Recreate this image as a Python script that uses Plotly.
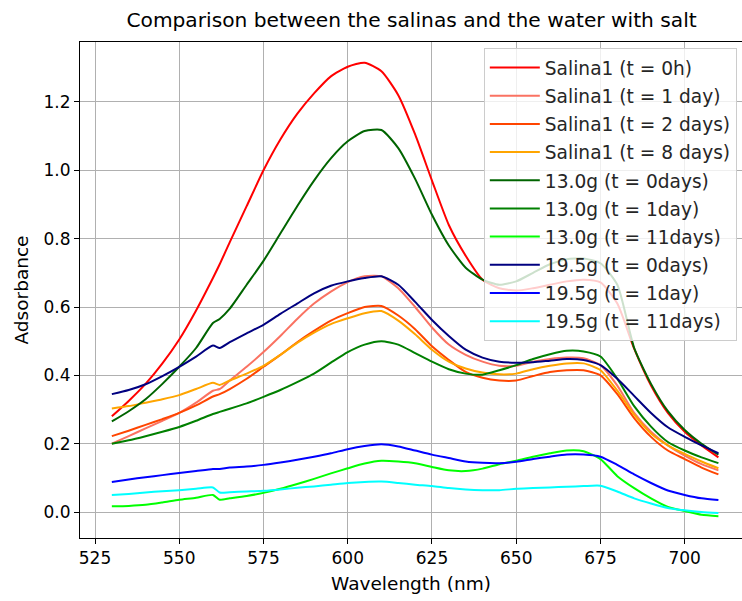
import plotly.graph_objects as go

wavelength = [530, 535, 540, 545, 550, 555, 560, 562, 565, 570, 575, 580, 585, 590, 595,
              600, 605, 610, 615, 620, 625, 630, 635, 640, 645, 650, 655, 660, 665, 670,
              675, 680, 685, 690, 695, 700, 705, 710]

salina_0h = [0.28, 0.325, 0.375, 0.435, 0.505, 0.59, 0.685, 0.725, 0.79, 0.895, 1.00, 1.09, 1.165, 1.225, 1.275,
             1.303, 1.315, 1.29, 1.22, 1.105, 0.97, 0.84, 0.75, 0.68, 0.655, 0.648, 0.655, 0.665, 0.675, 0.68,
             0.672, 0.61, 0.478, 0.37, 0.29, 0.235, 0.195, 0.16]
salina_1d = [0.20, 0.222, 0.245, 0.267, 0.29, 0.32, 0.355, 0.36, 0.385, 0.425, 0.468, 0.515, 0.565, 0.61, 0.645,
             0.673, 0.69, 0.69, 0.655, 0.60, 0.54, 0.49, 0.46, 0.44, 0.428, 0.428, 0.44, 0.448, 0.452, 0.45,
             0.43, 0.37, 0.29, 0.235, 0.195, 0.165, 0.14, 0.122]
salina_2d = [0.222, 0.238, 0.255, 0.272, 0.29, 0.312, 0.338, 0.345, 0.36, 0.39, 0.425, 0.46, 0.497, 0.53, 0.56,
             0.582, 0.60, 0.603, 0.575, 0.535, 0.485, 0.445, 0.41, 0.393, 0.385, 0.385, 0.398, 0.41, 0.415, 0.415,
             0.40, 0.345, 0.275, 0.22, 0.18, 0.155, 0.13, 0.11]
salina_8d = [0.303, 0.31, 0.32, 0.33, 0.342, 0.36, 0.378, 0.372, 0.385, 0.405, 0.428, 0.46, 0.495, 0.525, 0.55,
             0.567, 0.582, 0.588, 0.56, 0.52, 0.475, 0.44, 0.42, 0.408, 0.403, 0.405, 0.418, 0.428, 0.435, 0.435,
             0.415, 0.355, 0.285, 0.23, 0.195, 0.17, 0.148, 0.128]
g130_0d = [0.265, 0.295, 0.33, 0.375, 0.425, 0.48, 0.553, 0.565, 0.595, 0.665, 0.735, 0.815, 0.895, 0.97, 1.035,
           1.085, 1.115, 1.118, 1.065, 0.975, 0.87, 0.78, 0.715, 0.68, 0.665, 0.675, 0.70, 0.725, 0.74, 0.742,
           0.728, 0.665, 0.48, 0.375, 0.295, 0.24, 0.2, 0.168]
g130_1d = [0.20, 0.21, 0.222, 0.235, 0.249, 0.267, 0.287, 0.293, 0.302, 0.318, 0.337, 0.357, 0.38, 0.405, 0.437,
           0.468, 0.49, 0.50, 0.49, 0.465, 0.44, 0.418, 0.405, 0.402, 0.415, 0.43, 0.448, 0.462, 0.472, 0.47,
           0.455, 0.39, 0.31, 0.25, 0.205, 0.18, 0.16, 0.143]
g130_11d = [0.017, 0.018, 0.021, 0.028, 0.036, 0.042, 0.05, 0.036, 0.04, 0.047, 0.056, 0.068, 0.082, 0.097, 0.113,
            0.128, 0.142, 0.15, 0.148, 0.143, 0.132, 0.122, 0.12, 0.127, 0.14, 0.15, 0.162, 0.172, 0.18, 0.178,
            0.155, 0.105, 0.07, 0.04, 0.015, 0.003, -0.008, -0.012]
g195_0d = [0.345, 0.357, 0.374, 0.398, 0.425, 0.455, 0.487, 0.48, 0.497, 0.523, 0.548, 0.58, 0.61, 0.64, 0.662,
           0.675, 0.685, 0.69, 0.665, 0.615, 0.562, 0.515, 0.475, 0.452, 0.44, 0.437, 0.438, 0.443, 0.448, 0.445,
           0.43, 0.39, 0.34, 0.29, 0.248, 0.22, 0.195, 0.172]
g195_1d = [0.088, 0.095, 0.102, 0.108, 0.114, 0.12, 0.126, 0.126, 0.13, 0.133, 0.138, 0.145, 0.153, 0.162, 0.172,
           0.184, 0.193, 0.198, 0.192, 0.18, 0.168, 0.158, 0.148, 0.144, 0.143, 0.147, 0.155, 0.162, 0.168, 0.168,
           0.162, 0.138, 0.11, 0.085, 0.063, 0.05, 0.04, 0.035]
g195_11d = [0.05, 0.053, 0.057, 0.061, 0.064, 0.068, 0.072, 0.057, 0.058, 0.06, 0.062, 0.066, 0.071, 0.075, 0.08,
            0.085, 0.088, 0.089, 0.085, 0.08, 0.076, 0.07, 0.066, 0.064, 0.064, 0.068, 0.07, 0.072, 0.074, 0.076,
            0.077, 0.06, 0.04, 0.025, 0.012, 0.005, 0.0, -0.003]

series_names = ["Salina1 (t = 0h)", "Salina1 (t = 1 day)", "Salina1 (t = 2 days)", "Salina1 (t = 8 days)",
                "13.0g (t = 0days)", "13.0g (t = 1day)", "13.0g (t = 11days)",
                "19.5g (t = 0days)", "19.5g (t = 1day)", "19.5g (t = 11days)"]
series_values = [salina_0h, salina_1d, salina_2d, salina_8d, g130_0d, g130_1d, g130_11d,
                 g195_0d, g195_1d, g195_11d]
series_colors = ["#ff0000", "#fa7262", "#ff4500", "#ffa500", "#006400", "#008000", "#00ff00",
                 "#000080", "#0000ff", "#00ffff"]

x_ticks = [525, 550, 575, 600, 625, 650, 675, 700]
y_ticks = [0.0, 0.2, 0.4, 0.6, 0.8, 1.0, 1.2]

FONT = "DejaVu Sans"

fig = go.Figure()
for i, (name, vals, col) in enumerate(zip(series_names, series_values, series_colors)):
    fig.add_trace(go.Scatter(
        x=wavelength, y=vals, mode="lines", name=name, legendgroup="g%d" % i,
        line=dict(color=col, width=2, shape="spline", smoothing=0.6),
    ))

axis_common = dict(
    showgrid=True, gridcolor="#b0b0b0", gridwidth=1,
    showline=True, linecolor="black", linewidth=1,
    ticks="outside", ticklen=5, tickwidth=1, tickcolor="black",
    tickfont=dict(family=FONT, size=17, color="black"),
    zeroline=False,
)

fig.update_layout(
    width=742, height=601,
    margin=dict(l=80, r=0, t=42, b=63),
    paper_bgcolor="white", plot_bgcolor="white",
    font=dict(family=FONT, color="black"),
    title=dict(text="Comparison between the salinas and the water with salt",
               x=0.5547, xanchor="center", y=1 - 20 / 601, yanchor="middle",
               font=dict(family=FONT, size=20.2, color="black")),
    xaxis=dict(range=[520.55, 717.0], tickvals=x_ticks, mirror=True,
               title=dict(text="Wavelength (nm)", font=dict(family=FONT, size=18.5, color="black"), standoff=9),
               **axis_common),
    yaxis=dict(range=[-0.076, 1.3755], tickvals=y_ticks, tickformat=".1f",
               title=dict(text="Adsorbance", font=dict(family=FONT, size=18.5, color="black"), standoff=10),
               **axis_common),
    legend=dict(x=0.61, y=0.988, xanchor="left", yanchor="top",
                bgcolor="rgba(255,255,255,0.8)", bordercolor="#cccccc", borderwidth=1,
                font=dict(family=FONT, size=18.6, color="#262626"),
                traceorder="grouped", tracegroupgap=1, itemwidth=50),
    showlegend=True,
)

fig.write_html("out.html")
